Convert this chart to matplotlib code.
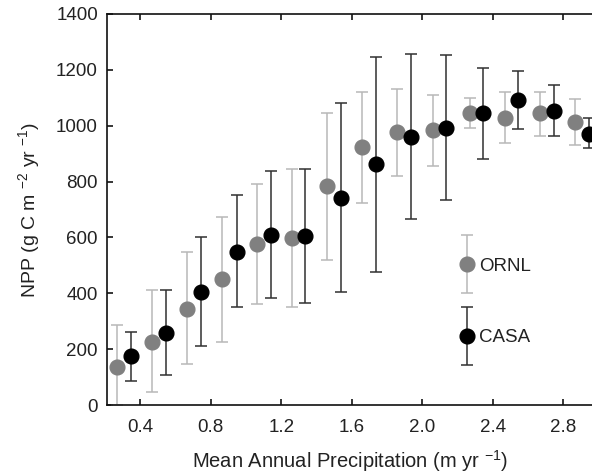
import matplotlib
matplotlib.use("Agg")
import matplotlib.pyplot as plt
from matplotlib.legend_handler import HandlerErrorbar

plt.rcParams['font.family'] = ['Liberation Sans', 'DejaVu Sans']
plt.rcParams['mathtext.fontset'] = 'custom'
plt.rcParams['mathtext.rm'] = 'Liberation Sans'
plt.rcParams['mathtext.it'] = 'Liberation Sans:italic'

# ORNL (gray)
x_ornl = [0.265, 0.465, 0.665, 0.865, 1.06, 1.26, 1.46, 1.66, 1.86, 2.06, 2.27, 2.47, 2.67, 2.87]
npp_ornl = [137, 227, 344, 450, 575, 597, 784, 923, 976, 985, 1044, 1029, 1044, 1014]
ornl_lo = [0, 45, 146, 227, 360, 352, 519, 724, 821, 857, 991, 939, 962, 931]
ornl_hi = [286, 410, 547, 673, 790, 844, 1047, 1120, 1131, 1109, 1098, 1122, 1122, 1096]

# CASA (black)
x_casa = [0.345, 0.547, 0.747, 0.948, 1.142, 1.337, 1.537, 1.737, 1.939, 2.138, 2.343, 2.545, 2.746, 2.945]
npp_casa = [175, 259, 406, 549, 610, 605, 740, 862, 960, 992, 1044, 1092, 1053, 970]
casa_lo = [87, 107, 211, 352, 384, 366, 403, 477, 667, 733, 880, 989, 962, 919]
casa_hi = [262, 413, 600, 752, 839, 844, 1080, 1247, 1256, 1252, 1207, 1195, 1145, 1027]

xticks = [0.4, 0.8, 1.2, 1.6, 2.0, 2.4, 2.8]
yticks = [0, 200, 400, 600, 800, 1000, 1200, 1400]

W, H = 592, 475
fig = plt.figure(figsize=(W / 100, H / 100), dpi=100)
ax = fig.add_axes([107 / W, 70 / H, (W - 107) / W + 0.002, 391 / H])

def errs(y, lo, hi):
    return [[v - l for v, l in zip(y, lo)], [h - v for v, h in zip(y, hi)]]

ms = 10.6
eo = ax.errorbar(x_ornl, npp_ornl, yerr=errs(npp_ornl, ornl_lo, ornl_hi), fmt='o',
                 color='#808080', mfc='#808080', mec='#808080', ms=ms,
                 ecolor='#b8b8b8', elinewidth=1.1, capsize=4.5, capthick=1.1,
                 label='ORNL', zorder=2)
ec = ax.errorbar(x_casa, npp_casa, yerr=errs(npp_casa, casa_lo, casa_hi), fmt='o',
                 color='black', mfc='black', mec='black', ms=ms,
                 ecolor='#303030', elinewidth=1.1, capsize=4.5, capthick=1.1,
                 label='CASA', zorder=3)

ax.set_xlim(0.211, 2.971)
ax.set_ylim(0, 1400)
ax.set_xticks(xticks)
ax.set_xticklabels([f"{v:.1f}" for v in xticks])
ax.set_yticks(yticks)
ax.set_yticklabels([str(v) for v in yticks])

ax.spines['right'].set_visible(False)
for s in ['left', 'bottom', 'top']:
    ax.spines[s].set_linewidth(1.2)
    ax.spines[s].set_color('#111111')

ax.tick_params(axis='x', direction='in', top=True, bottom=True, length=4, width=1.1,
               labelsize=13.5, pad=10, labelcolor='#222222')
ax.tick_params(axis='y', direction='in', left=True, right=False, length=4, width=1.1,
               labelsize=13.5, pad=6.5, labelcolor='#222222')

ax.set_xlabel(r"Mean Annual Precipitation (m yr $^{-1}$)", fontsize=14.5, color='#222222', labelpad=9)
ax.set_ylabel(r"NPP (g C m $^{-2}$ yr $^{-1}$)", fontsize=14, color='#222222', labelpad=10)

leg = ax.legend(handles=[eo, ec], loc='upper left', bbox_to_anchor=(0.686, 0.42),
                frameon=False, fontsize=13.5, handlelength=1.0, handletextpad=0.15,
                labelspacing=2.9, numpoints=1,
                handler_map={type(eo): HandlerErrorbar(xerr_size=0, yerr_size=1.55)})
for t in leg.get_texts():
    t.set_color('#222222')

fig.savefig('out.png', dpi=100)
